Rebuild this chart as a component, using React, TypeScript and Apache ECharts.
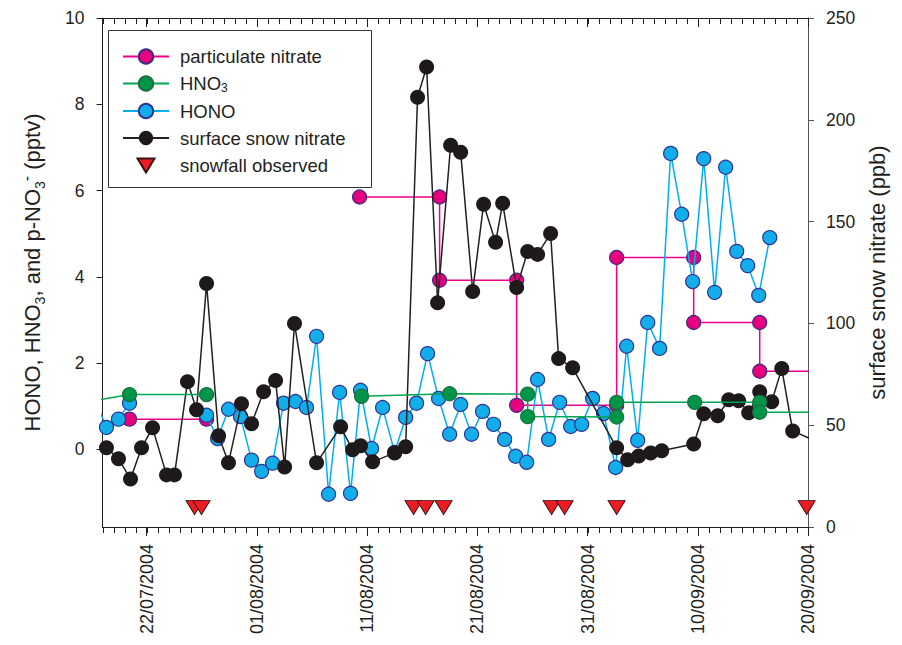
import React, { useEffect, useRef } from "react";
import * as echarts from "echarts";

// x values are days since 18/07/2004 00:00
const axisStartDay = 0;
const axisEndDay = 64;
const dateTickDays = [4, 14, 24, 34, 44, 54, 64];
const dateTickLabels = ["22/07/2004", "01/08/2004", "11/08/2004", "21/08/2004", "31/08/2004", "10/09/2004", "20/09/2004"];
const leftTicks = [0, 2, 4, 6, 8, 10];
const leftMin = -1.8;
const leftMax = 10;
const rightMin = 0;
const rightMax = 250;
const rightInterval = 50;

// particulate nitrate (pptv), sampling-period averages (start/end of period)
const pNitrateDays = [2.45, 9.44, 16, 23.32, 30.58, 30.58, 37.57, 37.57, 46.64, 46.64, 53.63, 53.63, 59.62, 59.62, 66];
const pNitrateValues = [0.7, 0.7, null, 5.85, 5.85, 3.92, 3.92, 1.02, 1.02, 4.45, 4.45, 2.94, 2.94, 1.81, 1.81];

// HNO3 (pptv)
const hno3Days = [-0.5, 2.45, 9.44, 16, 23.5, 31.49, 38.57, 38.57, 46.64, 46.64, 53.72, 59.62, 59.62, 66];
const hno3Values = [1.14, 1.27, 1.27, null, 1.23, 1.29, 1.28, 0.76, 0.75, 1.09, 1.09, 1.09, 0.86, 0.86];

// HONO (pptv)
const honoDays = [-0.27, 0.36, 1.45, 2.45, 6, 9.44, 10.44, 11.43, 12.52, 13.52, 14.43, 15.43, 16.42, 17.51, 18.51, 19.42, 20.51, 21.51, 22.5, 23.41, 24.41, 25.41, 26.5, 27.5, 28.49, 29.49, 30.49, 31.49, 32.49, 33.48, 34.48, 35.48, 36.48, 37.48, 38.48, 39.47, 40.47, 41.47, 42.47, 43.47, 44.46, 45.46, 46.55, 47.55, 48.55, 49.46, 50.54, 51.54, 52.54, 53.54, 54.54, 55.53, 56.53, 57.53, 58.53, 59.53, 60.53];
const honoValues = [0.9, 0.51, 0.7, 1.07, null, 0.79, 0.25, 0.93, 0.76, -0.25, -0.51, -0.32, 1.07, 1.11, 0.97, 2.62, -1.04, 1.32, -1.02, 1.37, 0.02, 0.97, -0.07, 0.74, 1.07, 2.22, 1.18, 0.35, 1.04, 0.35, 0.88, 0.58, 0.23, -0.16, -0.3, 1.62, 0.23, 1.09, 0.53, 0.58, 1.18, 0.83, -0.42, 2.39, 0.21, 2.94, 2.34, 6.86, 5.45, 3.89, 6.74, 3.64, 6.54, 4.59, 4.26, 3.57, 4.91];

// surface snow nitrate (ppb), right axis
const snowDays = [0.36, 1.45, 2.54, 3.54, 4.54, 5.81, 6.53, 7.71, 8.53, 9.44, 10.53, 11.43, 12.61, 13.52, 14.61, 15.7, 16.52, 17.42, 19.42, 21.6, 22.69, 23.41, 24.5, 26.5, 27.5, 28.58, 29.4, 30.4, 31.58, 32.49, 33.58, 34.57, 35.66, 36.3, 37.57, 38.57, 39.47, 40.65, 41.38, 42.65, 46.64, 47.64, 48.64, 49.73, 50.73, 53.63, 54.54, 55.81, 56.81, 57.71, 58.62, 59.62, 60.71, 61.62, 62.61, 65.06];
const snowValues = [38.9, 33.5, 23.6, 38.9, 48.7, 25.6, 25.6, 71.4, 57.6, 119.6, 44.8, 31.5, 60.5, 50.7, 66.4, 71.9, 29.5, 99.9, 31.5, 49.2, 37.9, 39.9, 32.0, 36.4, 39.4, 211.1, 225.9, 110.2, 187.5, 184.1, 115.7, 158.5, 139.8, 159.0, 117.6, 135.3, 133.9, 144.2, 82.7, 78.2, 38.9, 33.0, 34.9, 36.4, 37.4, 40.8, 55.6, 54.6, 62.5, 62.0, 56.1, 66.4, 61.5, 77.8, 47.2, 41.3];

// snowfall observed (marker level on left axis)
const snowfallDays = [8.35, 8.98, 28.22, 29.31, 30.94, 40.74, 41.92, 46.64, 63.88];
const snowfallLevel = -1.35;

const seriesNames = ["particulate nitrate", "HNO3", "HONO", "surface snow nitrate", "snowfall observed"];

const zip = (days: number[], vals: (number | null)[]) =>
  days.map((d, i) => [d, vals[i] === null ? "-" : vals[i]]);

const FONT = "'Liberation Sans', Arial, Helvetica, sans-serif";
const INK = "#231f20";
const TRI_PATH = "path://M0,0L20,0L10,17Z";
const TRI_LEGEND = "path://M-2.5,-2M19.5,16M0,0L17,0L8.5,14Z";
const DAY_TICK_LEN = 6;

function buildOption() {
  const gridRect = { left: 102.5, top: 18, width: 705.5, height: 509 };
  const tickLine = { color: INK, width: 1 };
  const dailyTicks: number[] = [];
  for (let d = axisStartDay; d <= axisEndDay; d++) dailyTicks.push(d);
  return {
    animation: false,
    backgroundColor: "#ffffff",
    grid: [{ ...gridRect, containLabel: false }],
    graphic: [
      {
        type: "rect",
        shape: { x: 108.5, y: 30.5, width: 263, height: 157 },
        style: { fill: "none", stroke: "#333333", lineWidth: 1 },
        z: 10,
      },
    ],
    legend: {
      left: 108,
      top: 30,
      orient: "vertical",
      padding: [17, 0, 0, 14],
      itemGap: 8,
      itemWidth: 46,
      itemHeight: 18,
      selectedMode: false,
      data: [
        { name: seriesNames[0] },
        { name: seriesNames[1] },
        { name: seriesNames[2] },
        { name: seriesNames[3] },
        { name: seriesNames[4], icon: TRI_LEGEND },
      ],
      formatter: (name: string) => (name === "HNO3" ? "{a|HNO}{s|3}" : `{a|${name}}`),
      textStyle: {
        fontSize: 18.5,
        fontFamily: FONT,
        color: INK,
        padding: [0, 0, 0, 6],
        rich: {
          a: { fontSize: 18.5, lineHeight: 20, fontFamily: FONT, color: INK },
          s: { fontSize: 12, lineHeight: 12, fontFamily: FONT, color: INK, verticalAlign: "bottom" },
        },
      },
    },
    xAxis: [
      {
        type: "value",
        position: "bottom",
        min: axisStartDay,
        max: axisEndDay,
        axisLine: { show: true, onZero: false, lineStyle: tickLine },
        axisTick: { show: true, inside: false, length: 9, customValues: dateTickDays, lineStyle: tickLine },
        axisLabel: {
          show: true,
          customValues: dateTickDays,
          rotate: 90,
          margin: 17,
          fontSize: 18,
          fontFamily: FONT,
          color: INK,
          formatter: (v: number) => {
            const i = dateTickDays.indexOf(Math.round(v));
            return i >= 0 ? dateTickLabels[i] : "";
          },
        },
        splitLine: { show: false },
      },
      {
        type: "value",
        position: "top",
        min: axisStartDay,
        max: axisEndDay,
        axisLine: { show: true, onZero: false, lineStyle: tickLine },
        axisTick: { show: true, inside: true, length: 9, customValues: dateTickDays, lineStyle: tickLine },
        axisLabel: { show: false },
        splitLine: { show: false },
      },
    ],
    yAxis: [
      {
        type: "value",
        position: "left",
        min: leftMin,
        max: leftMax,
        axisLine: { show: true, onZero: false, lineStyle: tickLine },
        axisTick: { show: true, inside: false, length: 6, customValues: leftTicks, lineStyle: tickLine },
        axisLabel: { show: true, customValues: leftTicks, margin: 18, fontSize: 17.5, fontFamily: FONT, color: INK },
        splitLine: { show: false },
        name: "{a|HONO, HNO}{s|3}{a|, and p-NO}{s|3}{p|-}{a| (pptv)}",
        nameLocation: "middle",
        nameRotate: 90,
        nameGap: 56,
        nameTextStyle: {
          fontSize: 22,
          fontFamily: FONT,
          color: INK,
          rich: {
            a: { fontSize: 22, lineHeight: 28, fontFamily: FONT, color: INK },
            s: { fontSize: 14, lineHeight: 14, fontFamily: FONT, color: INK, verticalAlign: "bottom" },
            p: { fontSize: 16, lineHeight: 16, fontFamily: FONT, color: INK, verticalAlign: "top" },
          },
        },
      },
      {
        type: "value",
        position: "right",
        min: rightMin,
        max: rightMax,
        interval: rightInterval,
        axisLine: { show: true, onZero: false, lineStyle: { color: "#555555", width: 1 } },
        axisTick: { show: true, inside: false, length: 6, lineStyle: { color: "#555555", width: 1 } },
        axisLabel: { show: true, margin: 18, fontSize: 17.5, fontFamily: FONT, color: INK },
        splitLine: { show: false },
        name: "surface snow nitrate (ppb)",
        nameLocation: "middle",
        nameRotate: 90,
        nameGap: 55,
        nameTextStyle: { fontSize: 22, fontFamily: FONT, color: INK },
      },
    ],
    series: [
      {
        // daily minor ticks on the bottom (outside) and top (inside) date axes
        name: "day ticks",
        type: "custom",
        xAxisIndex: 0,
        yAxisIndex: 0,
        silent: true,
        clip: false,
        z: 1,
        data: dailyTicks.map((d) => [d, leftMin]),
        encode: { x: 0, y: 1 },
        renderItem: (params: any, api: any) => {
          const x = Math.round(api.coord([api.value(0), leftMin])[0]) + 0.5;
          const cs = params.coordSys;
          const bottom = cs.y + cs.height;
          const top = cs.y;
          return {
            type: "group",
            children: [
              { type: "line", shape: { x1: x, y1: bottom, x2: x, y2: bottom + DAY_TICK_LEN }, style: { stroke: INK, lineWidth: 1 } },
              { type: "line", shape: { x1: x, y1: top, x2: x, y2: top + DAY_TICK_LEN }, style: { stroke: INK, lineWidth: 1 } },
            ],
          };
        },
      },
      {
        name: seriesNames[0],
        type: "line",
        xAxisIndex: 0,
        yAxisIndex: 0,
        data: zip(pNitrateDays, pNitrateValues),
        symbol: "circle",
        symbolSize: 14,
        connectNulls: false,
        clip: true,
        lineStyle: { color: "#ec008c", width: 1.5 },
        itemStyle: { color: "#e6007e", borderColor: "#3b2a84", borderWidth: 1.2 },
        z: 2,
      },
      {
        name: seriesNames[2],
        type: "line",
        xAxisIndex: 0,
        yAxisIndex: 0,
        data: zip(honoDays, honoValues),
        symbol: "circle",
        symbolSize: 14,
        connectNulls: false,
        clip: true,
        lineStyle: { color: "#00aeef", width: 1.5 },
        itemStyle: { color: "#12aeea", borderColor: "#2e3192", borderWidth: 1.2 },
        z: 3,
      },
      {
        name: seriesNames[3],
        type: "line",
        xAxisIndex: 0,
        yAxisIndex: 1,
        data: zip(snowDays, snowValues),
        symbol: "circle",
        symbolSize: 15,
        clip: true,
        lineStyle: { color: INK, width: 1.5 },
        itemStyle: { color: "#1e1a1b", borderColor: "#1e1a1b", borderWidth: 0 },
        z: 4,
      },
      {
        name: seriesNames[1],
        type: "line",
        xAxisIndex: 0,
        yAxisIndex: 0,
        data: zip(hno3Days, hno3Values),
        symbol: "circle",
        symbolSize: 14,
        connectNulls: false,
        clip: true,
        lineStyle: { color: "#00a651", width: 1.5 },
        itemStyle: { color: "#009548", borderColor: "#1b6e3c", borderWidth: 1.2 },
        z: 5,
      },
      {
        name: seriesNames[4],
        type: "scatter",
        xAxisIndex: 0,
        yAxisIndex: 0,
        data: snowfallDays.map((d) => [d, snowfallLevel]),
        symbol: TRI_PATH,
        symbolSize: [17, 14],
        symbolKeepAspect: false,
        clip: false,
        itemStyle: { color: "#ed1c24", borderColor: "#3a1414", borderWidth: 1, opacity: 1 },
        z: 6,
      },
    ],
  };
}

export default function App() {
  const ref = useRef<HTMLDivElement>(null);
  useEffect(() => {
    if (!ref.current) return;
    const chart = echarts.init(ref.current, null, { renderer: "svg" });
    chart.setOption(buildOption() as any);
    return () => chart.dispose();
  }, []);
  return (
    <div
      ref={ref}
      style={{ position: "fixed", left: 0, top: 0, width: 902, height: 645, background: "#ffffff" }}
    />
  );
}
